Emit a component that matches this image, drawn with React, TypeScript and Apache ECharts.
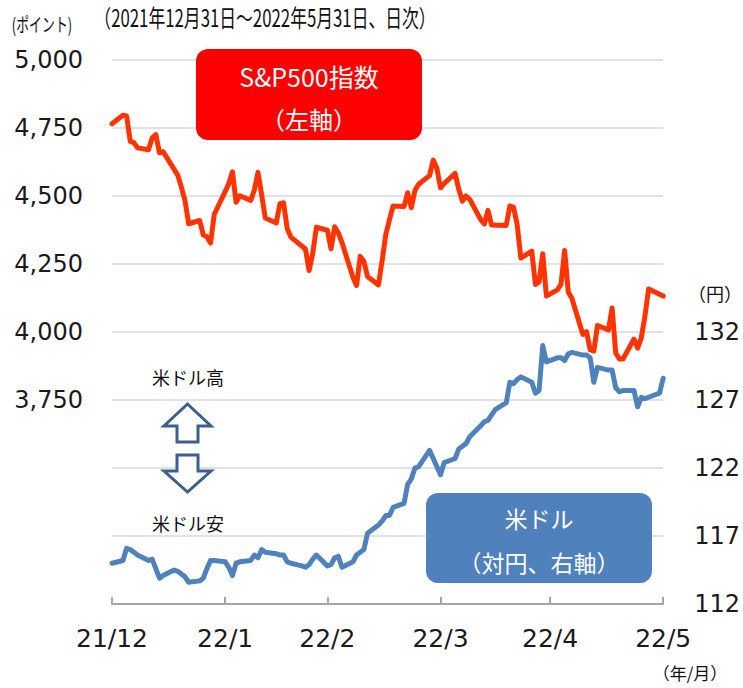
import React, { useEffect, useRef } from 'react';
import * as echarts from 'echarts';

// ---- data (weekday closes, null = US market holiday) ----
const spxDec = [4766];
const spxJan = [4797, 4794, 4701, 4696, 4677, 4670, 4713, 4726, 4659, 4663, null, 4577, 4533, 4483, 4398, 4410, 4357, 4350, 4327, 4432, 4516];
const spxFeb = [4546, 4589, 4477, 4501, 4484, 4522, 4587, 4504, 4419, 4401, 4472, 4475, 4380, 4349, null, 4305, 4226, 4289, 4385, 4374];
const spxMar = [4306, 4387, 4364, 4329, 4201, 4171, 4278, 4260, 4204, 4173, 4262, 4358, 4412, 4463, 4461, 4512, 4457, 4520, 4543, 4575, 4632, 4602, 4530];
const spxApr = [4546, 4583, 4525, 4481, 4500, 4488, 4413, 4397, 4447, 4393, null, 4392, 4463, 4459, 4394, 4272, 4297, 4175, 4184, 4288, 4132];
const spxMay = [4155, 4175, 4300, 4147, 4123, 3991, 4001, 3935, 3930, 4024, 4008, 4088, 3923, 3901, 3901, 3974, 3941, 3979, 4058, 4158, null, 4132];

const usdDec = [115.0];
const usdJan = [115.2, 116.1, 116.0, 115.8, 115.6, 115.2, 115.3, 114.6, 113.9, 114.1, 114.5, 114.4, 114.2, 114.0, 113.6, 113.7, 113.9, 114.6, 115.2, 115.2, 115.1];
const usdFeb = [114.7, 114.1, 115.0, 115.1, 115.2, 115.6, 115.4, 116.0, 115.8, 115.7, 115.6, 115.6, 115.1, 115.0, 114.8, 114.7, 114.9, 115.3, 115.6, 114.8];
const usdMar = [114.9, 115.4, 115.5, 114.7, 115.1, 115.6, 115.8, 116.0, 117.2, 117.8, 118.1, 118.5, 118.5, 119.1, 119.4, 120.8, 121.2, 122.0, 122.1, 123.3, 122.7, 122.1, 121.5];
const usdApr = [122.4, 122.7, 123.4, 123.6, 123.8, 124.3, 125.1, 125.4, 125.5, 125.9, 126.3, 126.8, 128.3, 128.2, 128.5, 128.7, 128.3, 127.5, 127.7, 131.0, 129.8];
const usdMay = [130.1, 130.1, 129.9, 130.4, 130.5, 130.3, 130.3, 130.1, 128.3, 129.4, 129.2, 129.2, 127.9, 127.6, 127.7, 127.7, 126.5, 127.2, 127.1, 127.2, 127.5, 128.6];

const xTickLabels = ['21/12', '22/1', '22/2', '22/3', '22/4', '22/5'];
const leftTicks = { min: 3000, max: 5000, interval: 250, labelFrom: 3750 };
const rightTicks = { min: 112, max: 152, interval: 5, labelTo: 132 };

const START = Date.UTC(2021, 11, 31);
const END = Date.UTC(2022, 4, 31);
const DAY = 86400000;

function buildTable() {
  const spx = [...spxDec, ...spxJan, ...spxFeb, ...spxMar, ...spxApr, ...spxMay];
  const usd = [...usdDec, ...usdJan, ...usdFeb, ...usdMar, ...usdApr, ...usdMay];
  const cats: string[] = [];
  const spxSeries: (number | null)[] = [];
  const usdSeries: (number | null)[] = [];
  const monthEnds: number[] = [];
  let w = 0;
  let i = 0;
  for (let t = START; t <= END; t += DAY, i++) {
    const d = new Date(t);
    cats.push(d.toISOString().slice(0, 10));
    const next = new Date(t + DAY);
    if (next.getUTCMonth() !== d.getUTCMonth()) monthEnds.push(i);
    const wd = d.getUTCDay();
    if (wd >= 1 && wd <= 5) {
      spxSeries.push(spx[w] ?? null);
      usdSeries.push(usd[w] ?? null);
      w++;
    } else {
      spxSeries.push(null);
      usdSeries.push(null);
    }
  }
  return { cats, spxSeries, usdSeries, monthEnds };
}

const JP = "'Noto Sans CJK JP', 'Noto Sans', sans-serif";
const NUM = "'DejaVu Sans', Verdana, sans-serif";

export default function App() {
  const ref = useRef<HTMLDivElement>(null);
  useEffect(() => {
    if (!ref.current) return;
    const chart = echarts.init(ref.current, undefined, { renderer: 'svg' });
    const { cats, spxSeries, usdSeries, monthEnds } = buildTable();
    const endSet = new Set(monthEnds);
    const labelOf: Record<string, string> = {};
    monthEnds.forEach((idx, k) => { labelOf[cats[idx]] = xTickLabels[k]; });

    const fmtComma = (v: number) => String(v).replace(/\B(?=(\d{3})+(?!\d))/g, ',');

    chart.setOption({
      animation: false,
      backgroundColor: '#fff',
      grid: { left: 112, right: 79, top: 60, bottom: 84, containLabel: false },
      xAxis: {
        type: 'category',
        data: cats,
        boundaryGap: false,
        axisLine: { show: true, lineStyle: { color: '#A6A6A6', width: 2 } },
        axisTick: { show: true, inside: true, length: 7, interval: (idx: number) => endSet.has(idx), lineStyle: { color: '#A6A6A6', width: 2 } },
        axisLabel: {
          interval: (idx: number) => endSet.has(idx),
          formatter: (v: string) => labelOf[v] || '',
          fontSize: 25, fontFamily: NUM, color: '#1a1a1a', margin: 22,
        },
        splitLine: { show: false },
      },
      yAxis: [
        {
          type: 'value', position: 'left',
          min: leftTicks.min, max: leftTicks.max, interval: leftTicks.interval,
          axisLine: { show: false }, axisTick: { show: false },
          axisLabel: {
            formatter: (v: number) => (v >= leftTicks.labelFrom ? fmtComma(v) : ''),
            fontSize: 24, fontFamily: NUM, color: '#1a1a1a', margin: 29,
          },
          splitLine: { show: true, lineStyle: { color: '#D9D9D9', width: 1.5 } },
        },
        {
          type: 'value', position: 'right',
          min: rightTicks.min, max: rightTicks.max, interval: rightTicks.interval,
          axisLine: { show: false }, axisTick: { show: false },
          axisLabel: {
            formatter: (v: number) => (v <= rightTicks.labelTo ? String(v) : ''),
            fontSize: 24, fontFamily: NUM, color: '#1a1a1a', margin: 31,
          },
          splitLine: { show: false },
        },
      ],
      series: [
        {
          name: 'S&P500指数', type: 'line', yAxisIndex: 0, data: spxSeries,
          connectNulls: true, showSymbol: false, symbol: 'none',
          lineStyle: { color: '#FF3300', width: 5, join: 'round', cap: 'round' },
        },
        {
          name: '米ドル', type: 'line', yAxisIndex: 1, data: usdSeries,
          connectNulls: true, showSymbol: false, symbol: 'none',
          lineStyle: { color: '#4F81BD', width: 5, join: 'round', cap: 'round' },
        },
      ],
      graphic: [
        { type: 'text', x: 265, y: 17, z: 100, scaleX: 0.7, style: { text: '（2021年12月31日～2022年5月31日、日次）', fontSize: 24, fontFamily: JP, fill: '#111', align: 'center', verticalAlign: 'middle' } },
        { type: 'text', x: 42, y: 24, z: 100, scaleX: 0.68, style: { text: '(ポイント)', fontSize: 19, fontFamily: JP, fill: '#111', align: 'center', verticalAlign: 'middle' } },
        { type: 'text', x: 715, y: 293, z: 100, style: { text: '（円）', fontSize: 18, fontFamily: JP, fill: '#111', align: 'center', verticalAlign: 'middle' } },
        { type: 'text', x: 690, y: 672, z: 100, style: { text: '（年/月）', fontSize: 17, fontFamily: JP, fill: '#111', align: 'center', verticalAlign: 'middle' } },
        { type: 'rect', z: 100, shape: { x: 196, y: 49, width: 226, height: 91, r: 12 }, style: { fill: '#FF0000' } },
        { type: 'text', x: 309, y: 76, z: 101, style: { text: 'S&P500指数', fontSize: 25, fontFamily: JP, fill: '#fff', align: 'center', verticalAlign: 'middle' } },
        { type: 'text', x: 309, y: 118, z: 101, style: { text: '（左軸）', fontSize: 24, fontFamily: JP, fill: '#fff', align: 'center', verticalAlign: 'middle' } },
        { type: 'rect', z: 100, shape: { x: 426, y: 493, width: 226, height: 90, r: 12 }, style: { fill: '#4F81BD' } },
        { type: 'text', x: 539, y: 518, z: 101, style: { text: '米ドル', fontSize: 23, fontFamily: JP, fill: '#fff', align: 'center', verticalAlign: 'middle' } },
        { type: 'text', x: 539, y: 562, z: 101, style: { text: '（対円、右軸）', fontSize: 23, fontFamily: JP, fill: '#fff', align: 'center', verticalAlign: 'middle' } },
        { type: 'text', x: 188, y: 377, z: 100, style: { text: '米ドル高', fontSize: 18, fontFamily: JP, fill: '#111', align: 'center', verticalAlign: 'middle' } },
        { type: 'text', x: 188, y: 523, z: 100, style: { text: '米ドル安', fontSize: 18, fontFamily: JP, fill: '#111', align: 'center', verticalAlign: 'middle' } },
        { type: 'polygon', z: 100, shape: { points: [[187.5, 404], [211, 426], [198, 426], [198, 442], [177, 442], [177, 426], [164, 426]] }, style: { fill: '#fff', stroke: '#3E5E8E', lineWidth: 3, lineJoin: 'miter' } },
        { type: 'polygon', z: 100, shape: { points: [[177, 455], [198, 455], [198, 471], [211, 471], [187.5, 492], [164, 471], [177, 471]] }, style: { fill: '#fff', stroke: '#3E5E8E', lineWidth: 3, lineJoin: 'miter' } },
      ],
    });
    return () => chart.dispose();
  }, []);
  return <div ref={ref} style={{ position: 'fixed', left: 0, top: 0, width: 743, height: 688, background: '#fff' }} />;
}
